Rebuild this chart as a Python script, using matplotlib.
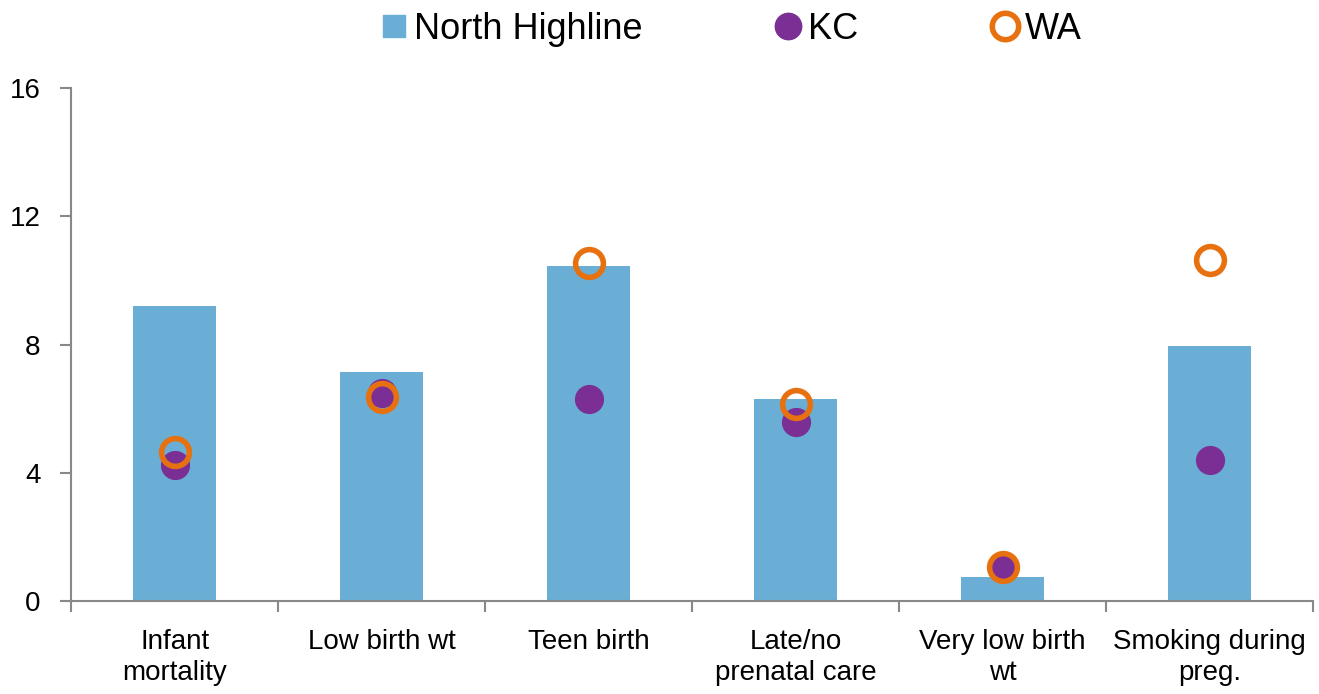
import matplotlib.pyplot as plt
import numpy as np
from matplotlib.lines import Line2D

# categories and values
categories = ['Infant\nmortality', 'Low birth wt', 'Teen birth',
              'Late/no\nprenatal care', 'Very low birth\nwt', 'Smoking during\npreg.']
north_highline = [9.2, 7.15, 10.45, 6.3, 0.75, 7.95]
kc = [4.25, 6.5, 6.3, 5.6, 1.05, 4.4]
wa = [4.65, 6.35, 10.55, 6.15, 1.05, 10.65]

plt.rcParams['font.family'] = ['Liberation Sans', 'DejaVu Sans']

fig = plt.figure(figsize=(13.19, 6.94), dpi=100)
ax = fig.add_axes([0.054, 0.134, 0.9415, 0.739])

x = np.arange(len(categories))
ax.bar(x, north_highline, width=0.4, color='#6AAED6', zorder=1)
ax.plot(x, kc, 'o', color='#7B2F94', markersize=20, linestyle='none', zorder=2)
ax.plot(x, wa, 'o', markerfacecolor='none', markeredgecolor='#E8710F',
        markeredgewidth=4, markersize=20, linestyle='none', zorder=3)

ax.set_xlim(-0.5, len(categories) - 0.5)
ax.set_ylim(0, 16)
ax.set_yticks([0, 4, 8, 12, 16])

ax.set_xticks(x)
ax.set_xticklabels(categories, fontsize=20, linespacing=1.25)
ax.set_xticks(np.arange(len(categories) + 1) - 0.5, minor=True)
ax.tick_params(axis='x', which='major', length=0, pad=20)
ax.tick_params(axis='x', which='minor', length=8, color='#888888', width=1.5)
ax.tick_params(axis='y', labelsize=20, length=8, color='#888888', width=1.5, pad=14)

for s in ['top', 'right']:
    ax.spines[s].set_visible(False)
for s in ['left', 'bottom']:
    ax.spines[s].set_color('#888888')
    ax.spines[s].set_linewidth(1.5)

handles = [
    Line2D([], [], marker='s', linestyle='none', color='#6AAED6', markersize=16),
    Line2D([], [], marker='o', linestyle='none', color='#7B2F94', markersize=19),
    Line2D([], [], marker='o', linestyle='none', markerfacecolor='none',
           markeredgecolor='#E8710F', markeredgewidth=4, markersize=19),
]
fig.legend(handles, ['North Highline', 'KC', 'WA'], loc='upper center',
           bbox_to_anchor=(0.553, 1.03), ncol=3, frameon=False, fontsize=26,
           handletextpad=0.1, columnspacing=3.6, handlelength=0.9)

plt.savefig('out.png', dpi=100)
